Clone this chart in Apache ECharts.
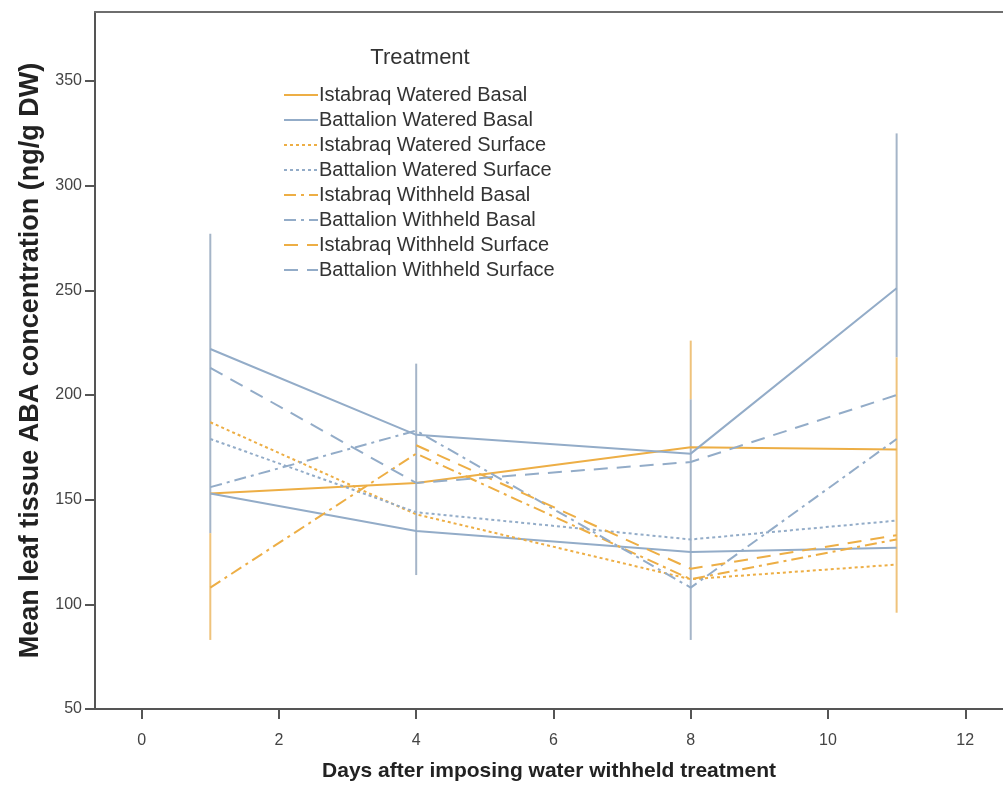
<!DOCTYPE html>
<html>
<head>
<meta charset="utf-8">
<script src="https://cdn.jsdelivr.net/npm/echarts@6/dist/echarts.min.js"></script>
<style>
    html, body { margin: 0; padding: 0; background: #fff; }
    #chart { width: 1003px; height: 787px; }
</style>
</head>
<body>
<div id="chart"></div>
<script>
const days = [1, 4, 8, 11];
const xTicks = [0, 2, 4, 6, 8, 10, 12];
const yTicks = [50, 100, 150, 200, 250, 300, 350];

// mean ABA per treatment
const istabraqWateredBasal = [153, 158, 175, 174];
const battalionWateredBasal = [222, 181, 172, 251];
const battalionWateredBasalLow = [153, 135, 125, 127];
const istabraqWateredSurface = [187, 143, 112, 119];
const battalionWateredSurface = [179, 144, 131, 140];
const istabraqWithheldBasal = [108, 172, 112, 131];
const battalionWithheldBasal = [156, 183, 108, 179];
const istabraqWithheldSurface = [null, 176, 117, 133];
const battalionWithheldSurface = [213, 158, 168, 200];

// visible error bar spans [day, low, high]
const battalionErr = [[1, 134, 277], [4, 114, 215], [8, 83, 198], [11, 218, 325]];
const istabraqErr = [[1, 83, 134], [8, 198, 226], [11, 96, 218]];

const ORANGE = '#EDAE45';
const BLUE = '#93ACC8';
const FONT = 'Liberation Sans, Arial, sans-serif';

const pairs = vals => days.map((d, i) => [d, vals[i]]);

function lineSeries(name, vals, color, type) {
    return {
        name: name,
        type: 'line',
        data: pairs(vals),
        symbol: 'none',
        connectNulls: false,
        z: 3,
        lineStyle: {
            color: color,
            width: 2,
            type: type
        },
        itemStyle: { color: color }
    };
}

function errSeries(list, color) {
    return {
        type: 'custom',
        data: list,
        z: 2,
        silent: true,
        renderItem: (params, api) => {
            const top = api.coord([api.value(0), api.value(2)]);
            const bot = api.coord([api.value(0), api.value(1)]);
            return {
                type: 'line',
                shape: { x1: top[0], y1: top[1], x2: bot[0], y2: bot[1] },
                style: { stroke: color, lineWidth: 2 }
            };
        }
    };
}

const DOT = [3, 3];
const DASHDOT = [12, 5, 3, 5];
const LONGDASH = [14, 9];

const chart = echarts.init(document.getElementById('chart'));

chart.setOption({
    animation: false,
    backgroundColor: '#fff',
    textStyle: { fontFamily: FONT },
    grid: {
        left: 95,
        right: 0,
        top: 12,
        bottom: 78
    },
    title: {
        text: 'Treatment',
        left: 415,
        top: 42,
        textAlign: 'center',
        textStyle: {
            fontFamily: FONT,
            fontSize: 22,
            fontWeight: 'normal',
            color: '#333'
        }
    },
    legend: {
        orient: 'vertical',
        left: 278,
        top: 80,
        itemWidth: 34,
        itemHeight: 14,
        itemGap: 5,
        itemStyle: { opacity: 0 },
        data: [
            'Istabraq Watered Basal',
            'Battalion Watered Basal',
            'Istabraq Watered Surface',
            'Battalion Watered Surface',
            'Istabraq Withheld Basal',
            'Battalion Withheld Basal',
            'Istabraq Withheld Surface',
            'Battalion Withheld Surface'
        ],
        textStyle: {
            fontFamily: FONT,
            fontSize: 20,
            lineHeight: 20,
            color: '#333',
            padding: [0, 0, 0, -4]
        }
    },
    xAxis: [
        {
            type: 'value',
            min: -0.68,
            max: 12.55,
            name: 'Days after imposing water withheld treatment',
            nameLocation: 'middle',
            nameGap: 52,
            nameTextStyle: {
                fontFamily: FONT,
                fontSize: 21,
                fontWeight: 'bold',
                color: '#222'
            },
            axisLine: { onZero: false, lineStyle: { color: '#555', width: 2 } },
            axisTick: {
                customValues: xTicks,
                length: 10,
                lineStyle: { color: '#555', width: 2 }
            },
            axisLabel: {
                customValues: xTicks,
                margin: 24,
                fontFamily: FONT,
                fontSize: 16,
                color: '#444'
            },
            splitLine: { show: false }
        },
        {
            // top frame line only
            type: 'value',
            position: 'top',
            min: -0.68,
            max: 12.55,
            axisLine: { onZero: false, lineStyle: { color: '#6e6e6e', width: 2 } },
            axisTick: { show: false },
            axisLabel: { show: false },
            splitLine: { show: false }
        }
    ],
    yAxis: {
        type: 'value',
        min: 50,
        max: 383,
        name: 'Mean leaf tissue ABA concentration (ng/g DW)',
        nameLocation: 'middle',
        nameGap: 48,
        nameTextStyle: {
            fontFamily: FONT,
            fontSize: 27,
            fontWeight: 'bold',
            color: '#222'
        },
        axisLine: { onZero: false, lineStyle: { color: '#555', width: 2 } },
        axisTick: {
            customValues: yTicks,
            length: 10,
            lineStyle: { color: '#555', width: 2 }
        },
        axisLabel: {
            customValues: yTicks,
            margin: 13,
            fontFamily: FONT,
            fontSize: 16,
            color: '#444'
        },
        splitLine: { show: false }
    },
    series: [
        errSeries(battalionErr, '#A5B5C8'),
        errSeries(istabraqErr, '#EFC37C'),
        lineSeries('Istabraq Watered Basal', istabraqWateredBasal, ORANGE, 'solid'),
        lineSeries('Battalion Watered Basal', battalionWateredBasal, BLUE, 'solid'),
        lineSeries('Battalion Watered Basal', battalionWateredBasalLow, BLUE, 'solid'),
        lineSeries('Istabraq Watered Surface', istabraqWateredSurface, ORANGE, DOT),
        lineSeries('Battalion Watered Surface', battalionWateredSurface, BLUE, DOT),
        lineSeries('Istabraq Withheld Basal', istabraqWithheldBasal, ORANGE, DASHDOT),
        lineSeries('Battalion Withheld Basal', battalionWithheldBasal, BLUE, DASHDOT),
        lineSeries('Istabraq Withheld Surface', istabraqWithheldSurface, ORANGE, LONGDASH),
        lineSeries('Battalion Withheld Surface', battalionWithheldSurface, BLUE, LONGDASH)
    ]
});
</script>
</body>
</html>
